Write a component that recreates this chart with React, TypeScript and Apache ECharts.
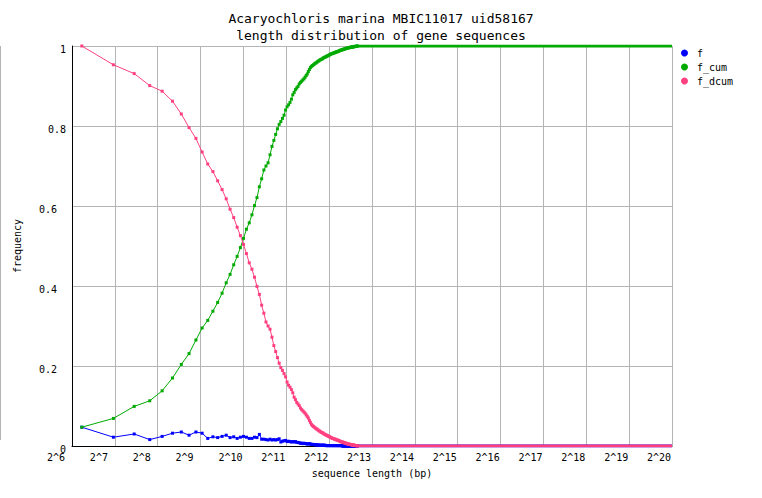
import React, { useEffect, useRef } from "react";
import * as echarts from "echarts";

const titleLines = ["Acaryochloris marina MBIC11017 uid58167", "length distribution of gene sequences"];
const seriesNames = ["f", "f_cum", "f_dcum"];
const seriesColors = ["#0000ff", "#00aa00", "#ff4080"];

// bin centres (bp)
const binLengths = [
  75, 125, 175, 225, 275, 325, 375, 425, 475, 525, 575, 625, 675, 725, 775, 825, 875, 925, 975, 1025,
  1075, 1125, 1175, 1225, 1275, 1325, 1375, 1425, 1475, 1525, 1575, 1625, 1675, 1725, 1775, 1825, 1875, 1925, 1975, 2025,
  2075, 2125, 2175, 2225, 2275, 2325, 2375, 2425, 2475, 2525, 2575, 2625, 2675, 2725, 2775, 2825, 2875, 2925, 2975, 3025,
  3075, 3125, 3175, 3225, 3275, 3325, 3375, 3425, 3475, 3525, 3575, 3625, 3675, 3725, 3775, 3825, 3875, 3925, 3975, 4025,
  4075, 4125, 4175, 4225, 4275, 4325, 4375, 4425, 4475, 4525, 4575, 4625, 4675, 4725, 4775, 4825, 4875, 4925, 4975, 5025,
  5075, 5125, 5175, 5225, 5275, 5325, 5375, 5425, 5475, 5525, 5575, 5625, 5675, 5725, 5775, 5825, 5875, 5925, 5975, 6025,
  6075, 6125, 6175, 6225, 6275, 6325, 6375, 6425, 6475,
];

const fValues = [
  0.047, 0.022, 0.030, 0.016, 0.024, 0.032, 0.035, 0.027, 0.035, 0.032, 0.019, 0.023, 0.021, 0.024, 0.027, 0.021, 0.023, 0.019, 0.022, 0.024,
  0.022, 0.019, 0.019, 0.022, 0.021, 0.029, 0.017, 0.017, 0.016, 0.015, 0.017, 0.015, 0.016, 0.015, 0.016, 0.018, 0.010, 0.012, 0.013, 0.014,
  0.011, 0.012, 0.011, 0.010, 0.011, 0.010, 0.011, 0.009, 0.009, 0.008, 0.007, 0.007, 0.006, 0.007, 0.006, 0.006, 0.005, 0.005, 0.006, 0.005,
  0.004, 0.004, 0.004, 0.003, 0.003, 0.003, 0.003, 0.003, 0.002, 0.002, 0.002, 0.002, 0.002, 0.002, 0.002, 0.002, 0.001, 0.001, 0.001, 0.001,
  0.001, 0.001, 0.001, 0.001, 0.001, 0.001, 0.001, 0.001, 0.001, 0.001, 0.001, 0.001, 0.001, 0.001, 0.001, 0.001, 0.001, 0.001, 0.001, 0.001,
  0, 0, 0, 0, 0, 0, 0, 0, 0, 0, 0, 0, 0, 0, 0, 0, 0, 0, 0, 0,
  0, 0, 0, 0, 0, 0, 0, 0, 0,
];

const fCumValues = [
  0.047, 0.069, 0.099, 0.113, 0.138, 0.170, 0.204, 0.231, 0.265, 0.295, 0.314, 0.337, 0.359, 0.382, 0.408, 0.429, 0.453, 0.474, 0.496, 0.519,
  0.542, 0.558, 0.578, 0.601, 0.621, 0.648, 0.668, 0.690, 0.700, 0.708, 0.728, 0.749, 0.764, 0.779, 0.793, 0.804, 0.811, 0.819, 0.827, 0.840,
  0.848, 0.853, 0.859, 0.867, 0.878, 0.884, 0.891, 0.895, 0.899, 0.905, 0.909, 0.912, 0.915, 0.918, 0.922, 0.926, 0.930, 0.936, 0.941, 0.946,
  0.949, 0.951, 0.953, 0.955, 0.957, 0.958, 0.960, 0.962, 0.963, 0.965, 0.966, 0.967, 0.968, 0.970, 0.971, 0.972, 0.973, 0.974, 0.975, 0.976,
  0.977, 0.978, 0.979, 0.980, 0.981, 0.981, 0.982, 0.983, 0.983, 0.984, 0.985, 0.985, 0.986, 0.986, 0.987, 0.988, 0.989, 0.989, 0.990, 0.990,
  0.991, 0.991, 0.992, 0.992, 0.993, 0.993, 0.994, 0.994, 0.995, 0.995, 0.995, 0.996, 0.996, 0.996, 0.997, 0.997, 0.997, 0.997, 0.998, 0.998,
  0.998, 0.998, 0.999, 0.999, 0.999, 0.999, 0.999, 1.0, 1.0,
];

const fDcumValues = [
  1.0, 0.953, 0.931, 0.901, 0.887, 0.862, 0.830, 0.796, 0.769, 0.735, 0.705, 0.686, 0.663, 0.641, 0.618, 0.592, 0.571, 0.547, 0.526, 0.504,
  0.481, 0.458, 0.442, 0.422, 0.399, 0.379, 0.352, 0.332, 0.310, 0.300, 0.292, 0.272, 0.251, 0.236, 0.221, 0.207, 0.196, 0.189, 0.181, 0.173,
  0.160, 0.152, 0.147, 0.141, 0.133, 0.122, 0.116, 0.109, 0.105, 0.101, 0.095, 0.091, 0.088, 0.085, 0.082, 0.078, 0.074, 0.070, 0.064, 0.059,
  0.054, 0.051, 0.049, 0.047, 0.045, 0.043, 0.042, 0.040, 0.038, 0.037, 0.035, 0.034, 0.033, 0.032, 0.030, 0.029, 0.028, 0.027, 0.026, 0.025,
  0.024, 0.023, 0.022, 0.021, 0.020, 0.019, 0.019, 0.018, 0.017, 0.017, 0.016, 0.015, 0.015, 0.014, 0.014, 0.013, 0.012, 0.011, 0.011, 0.010,
  0.010, 0.009, 0.009, 0.008, 0.008, 0.007, 0.007, 0.006, 0.006, 0.005, 0.005, 0.005, 0.004, 0.004, 0.004, 0.003, 0.003, 0.003, 0.003, 0.002,
  0.002, 0.002, 0.002, 0.001, 0.001, 0.001, 0.001, 0.001, 0,
];

// beyond the last bin every series stays flat up to the axis end (2^20)
const tailEnd = 1048576;
const tailValues = [0, 1, 0];

const xTickExponents = [6, 7, 8, 9, 10, 11, 12, 13, 14, 15, 16, 17, 18, 19, 20];
const yTicks = [0, 0.2, 0.4, 0.6, 0.8, 1];

const MONO = "'DejaVu Sans Mono', 'Liberation Mono', monospace";

export default function App() {
  const ref = useRef<HTMLDivElement>(null);
  useEffect(() => {
    if (!ref.current) return;
    const chart = echarts.init(ref.current, null, { renderer: "svg" });
    const valueSets = [fValues, fCumValues, fDcumValues];
    const lastLen = binLengths[binLengths.length - 1];
    const mainSeries: any[] = valueSets.map((vals, k) => ({
      name: seriesNames[k],
      type: "line",
      data: binLengths.map((len, i) => [len, vals[i]]),
      symbol: "rect",
      symbolSize: 3,
      showSymbol: true,
      showAllSymbol: true,
      itemStyle: { color: seriesColors[k] },
      lineStyle: { color: seriesColors[k], width: 1 },
      z: 2 + k,
      silent: true,
    }));
    const tailSeries: any[] = valueSets.map((vals, k) => ({
      name: seriesNames[k],
      type: "line",
      data: [
        [lastLen, tailValues[k]],
        [tailEnd, tailValues[k]],
      ],
      symbol: "none",
      itemStyle: { color: seriesColors[k] },
      lineStyle: { color: seriesColors[k], width: 3 },
      z: 2 + k,
      silent: true,
    }));
    const minLabel = Math.pow(2, xTickExponents[0]);
    const maxLabel = Math.pow(2, xTickExponents[xTickExponents.length - 1]);
    chart.setOption({
      animation: false,
      backgroundColor: "#ffffff",
      title: {
        text: titleLines.join("\n"),
        left: "center",
        top: 10,
        padding: 0,
        textStyle: {
          fontFamily: MONO,
          fontSize: 13,
          fontWeight: "normal",
          color: "#000",
          lineHeight: 17,
        },
      },
      legend: {
        data: seriesNames,
        orient: "vertical",
        left: 681,
        top: 48,
        icon: "circle",
        itemWidth: 7,
        itemHeight: 7,
        itemGap: 4,
        padding: 0,
        selectedMode: false,
        textStyle: { fontFamily: MONO, fontSize: 10, color: "#000", padding: [0, 0, 0, 4] },
      },
      grid: { left: 72, right: 90, top: 46, bottom: 52, containLabel: false },
      xAxis: {
        type: "log",
        logBase: 2,
        min: minLabel,
        max: maxLabel,
        interval: 1,
        splitNumber: 14,
        name: "sequence length (bp)",
        nameLocation: "middle",
        nameGap: 22,
        nameTextStyle: { fontFamily: MONO, fontSize: 10, color: "#000" },
        axisLine: { lineStyle: { color: "#000", width: 1 } },
        axisTick: { show: false },
        splitLine: { show: true, lineStyle: { color: "#b4b4b4", width: 1 } },
        axisLabel: {
          fontFamily: MONO,
          fontSize: 10,
          color: "#000",
          margin: 6,
          align: "left",
          padding: [0, 0, 0, -25],
          showMinLabel: true,
          showMaxLabel: true,
          hideOverlap: false,
          formatter: (v: number) => "2^" + Math.round(Math.log2(v)),
        },
      },
      yAxis: {
        type: "value",
        min: yTicks[0],
        max: yTicks[yTicks.length - 1],
        interval: 0.2,
        name: "frequency",
        nameLocation: "middle",
        nameRotate: 90,
        nameGap: 50,
        nameTextStyle: { fontFamily: MONO, fontSize: 10, color: "#000" },
        axisLine: { show: true, lineStyle: { color: "#000", width: 1 } },
        axisTick: { show: false },
        splitLine: { show: true, lineStyle: { color: "#b4b4b4", width: 1 } },
        axisLabel: {
          margin: 6,
          formatter: (v: number) => {
            const s = String(Math.round(v * 10) / 10);
            return v === 0 || v === 0.8 || v === 1 ? "{a|" + s + "}" : "{b|" + s + "}";
          },
          rich: {
            a: { fontFamily: MONO, fontSize: 10, color: "#000", padding: [6, 0, 0, 0] },
            b: { fontFamily: MONO, fontSize: 10, color: "#000", padding: [6, 9, 0, 0] },
          },
        },
      },
      graphic: [
        {
          type: "line",
          shape: { x1: 0.5, y1: 46, x2: 0.5, y2: 440 },
          style: { stroke: "#b4b4b4", lineWidth: 1 },
          silent: true,
        },
      ],
      series: [...mainSeries, ...tailSeries],
    });
    return () => chart.dispose();
  }, []);
  return (
    <div
      ref={ref}
      style={{ position: "fixed", left: 0, top: 0, width: 762, height: 498, background: "#fff" }}
    />
  );
}
